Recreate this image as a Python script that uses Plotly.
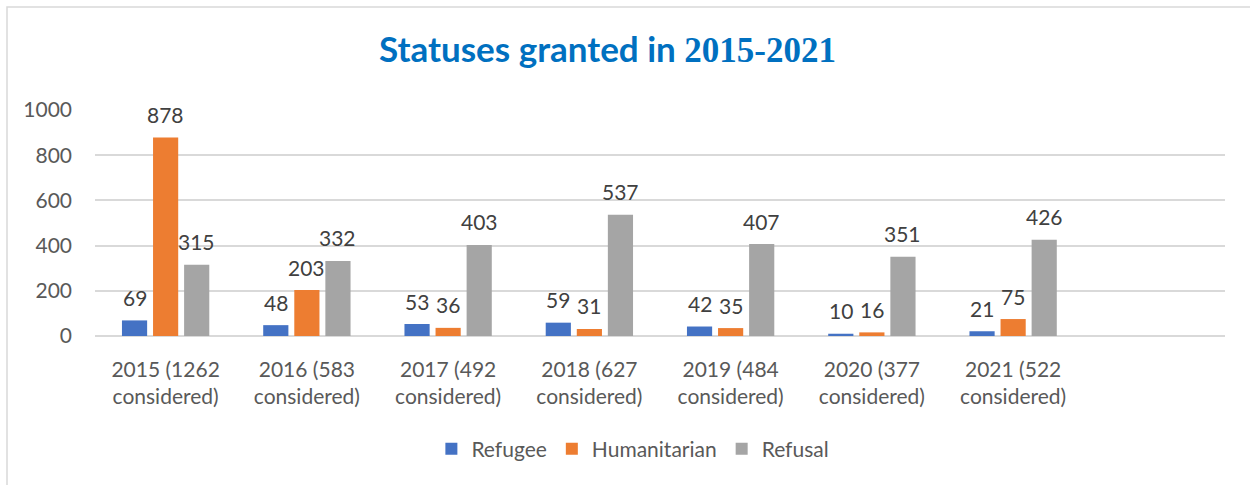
import plotly.graph_objects as go

# Categories (one empty slot is kept at the end of the axis)
categories = [
    "2015 (1262<br>considered)",
    "2016 (583<br>considered)",
    "2017 (492<br>considered)",
    "2018 (627<br>considered)",
    "2019 (484<br>considered)",
    "2020 (377<br>considered)",
    "2021 (522<br>considered)",
]
refugee = [69, 48, 53, 59, 42, 10, 21]
humanitarian = [878, 203, 36, 31, 35, 16, 75]
refusal = [315, 332, 403, 537, 407, 351, 426]

y_ticks = [0, 200, 400, 600, 800, 1000]

series = [
    ("Refugee", refugee, "#4472C4", -31),
    ("Humanitarian", humanitarian, "#ED7D31", 0),
    ("Refusal", refusal, "#A5A5A5", 31),
]

FONT = "Lato, Calibri, Carlito, sans-serif"
positions = list(range(len(categories)))

fig = go.Figure()
annotations = []
for name, values, color, shift in series:
    fig.add_trace(go.Bar(
        name=name, x=positions, y=values,
        marker=dict(color=color, line=dict(width=0)),
    ))
    # value labels above each bar
    for xi, v in zip(positions, values):
        annotations.append(dict(
            x=xi, y=v, xref="x", yref="y", text=str(v), showarrow=False,
            xshift=shift, yshift=23, yanchor="middle", xanchor="center",
            font=dict(family=FONT, size=21, color="#404040"),
        ))

fig.update_layout(
    width=1250, height=485,
    margin=dict(l=95, r=25, t=110, b=149),
    paper_bgcolor="white", plot_bgcolor="white",
    barmode="group", bargap=0.34, bargroupgap=0.19,
    font=dict(family=FONT, size=21, color="#595959"),
    title=dict(
        text="Statuses granted in <span style='font-family:\"Liberation Serif\", serif'>2015-2021</span>",
        x=0.486, xanchor="center", y=0.897, yanchor="middle",
        font=dict(family=FONT, size=35, color="#0070C0", weight="bold"),
    ),
    xaxis=dict(
        tickmode="array", tickvals=positions, ticktext=categories,
        range=[-0.5, 7.5], showgrid=False, zeroline=False,
        showline=False, ticks="", ticklabelstandoff=19,
        tickfont=dict(family=FONT, size=21, color="#595959"),
    ),
    yaxis=dict(
        range=[0, 1000], tickvals=y_ticks, showgrid=True,
        gridcolor="#D9D9D9", gridwidth=1.5, zeroline=True,
        zerolinecolor="#D9D9D9", zerolinewidth=1.5, showline=False,
        ticks="", ticklabelstandoff=22,
        tickfont=dict(family=FONT, size=21, color="#595959"),
    ),
    legend=dict(
        orientation="h", x=0.476, xanchor="center", y=-0.50, yanchor="middle",
        font=dict(family=FONT, size=21, color="#595959"),
        itemwidth=30, traceorder="normal",
    ),
    annotations=annotations,
    shapes=[dict(
        type="rect", xref="paper", yref="paper",
        xsizemode="pixel", ysizemode="pixel",
        xanchor=0, yanchor=1,
        x0=-88, x1=2000, y0=-1000, y1=103,
        line=dict(color="#D9D9D9", width=1.5), fillcolor="rgba(0,0,0,0)",
        layer="below",
    )],
)

fig.write_html("out.html")
